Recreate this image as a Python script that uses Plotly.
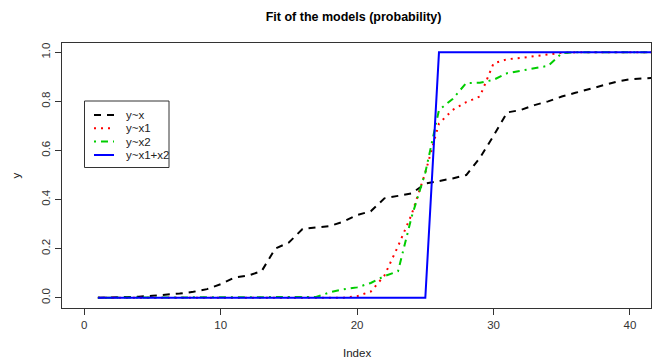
import plotly.graph_objects as go

index = list(range(1, 43))

fit_x = [0.000, 0.001, 0.002, 0.004, 0.008, 0.012, 0.017, 0.024, 0.035, 0.055,
         0.082, 0.090, 0.108, 0.200, 0.225, 0.280, 0.286, 0.292, 0.310, 0.337,
         0.352, 0.405, 0.415, 0.425, 0.465, 0.475, 0.486, 0.500, 0.570, 0.660,
         0.755, 0.765, 0.785, 0.800, 0.820, 0.835, 0.850, 0.865, 0.880, 0.890,
         0.893, 0.897]

fit_x1 = [0.0] * 18 + [0.0, 0.006, 0.025, 0.090, 0.210, 0.340, 0.510, 0.710,
          0.765, 0.797, 0.820, 0.955, 0.972, 0.977, 0.984, 0.990, 0.998] + [1.0] * 7

fit_x2 = [0.0] * 12 + [0.003] * 5 + [0.022, 0.034, 0.042, 0.060, 0.088, 0.108,
          0.330, 0.510, 0.765, 0.810, 0.875, 0.876, 0.888, 0.915, 0.925, 0.935,
          0.945, 0.996] + [1.0] * 7

fit_x1x2 = [0.0] * 25 + [1.0] * 17

series_names = ["y~x", "y~x1", "y~x2", "y~x1+x2"]
series_vals = [fit_x, fit_x1, fit_x2, fit_x1x2]
series_colors = ["#000000", "#FF0000", "#00CD00", "#0000FF"]
series_dash = ["7px,6px", "2px,5px", "2px,5px,7px,5px", "solid"]

x_ticks = [0, 10, 20, 30, 40]
y_ticks = [0.0, 0.2, 0.4, 0.6, 0.8, 1.0]

fig = go.Figure()
for name, vals, col, dash in zip(series_names, series_vals, series_colors, series_dash):
    fig.add_trace(go.Scatter(x=index, y=vals, mode="lines", name=name,
                             showlegend=False,
                             line=dict(color=col, width=2, dash=dash)))

font = "Liberation Sans, Arial, sans-serif"
axis_col = "#333333"

# plot area geometry (pixels) used to place the R-style legend box
L, T, W, H = 62, 43, 589, 265


def px(xp):
    return (xp - L) / W


def py(yp):
    return (T + H - yp) / H


shapes = [dict(type="rect", xref="paper", yref="paper",
               x0=px(84.5), x1=px(169), y0=py(101), y1=py(167.5),
               line=dict(color=axis_col, width=1), fillcolor="white", layer="above")]
annotations = []
row_y = [115, 128.3, 141.6, 155]
for name, col, dash, ry in zip(series_names, series_colors, series_dash, row_y):
    shapes.append(dict(type="line", xref="paper", yref="paper",
                       x0=px(94), x1=px(114), y0=py(ry), y1=py(ry),
                       line=dict(color=col, width=2, dash=dash), layer="above"))
    annotations.append(dict(text=name, xref="paper", yref="paper", x=px(123.5), y=py(ry),
                            xanchor="left", yanchor="middle", showarrow=False,
                            font=dict(size=11.5, color="#222222")))

annotations += [
    dict(text="Index", xref="paper", yref="paper", x=0.5, y=-45 / 265,
         xanchor="center", yanchor="middle", showarrow=False,
         font=dict(size=11.5, color="#222222")),
    dict(text="y", xref="paper", yref="paper", x=-47 / 589, y=0.5,
         xanchor="center", yanchor="middle", showarrow=False, textangle=-90,
         font=dict(size=11.5, color="#222222")),
]

fig.update_layout(
    width=653, height=362,
    margin=dict(l=L, r=653 - L - W, t=T, b=362 - T - H),
    paper_bgcolor="white", plot_bgcolor="white",
    font=dict(family=font, size=11.5, color="#222222"),
    title=dict(text="<b>Fit of the models (probability)</b>", x=0.5415, xanchor="center",
               y=1 - 17 / 362, yanchor="middle", font=dict(size=12.5, color="#000000")),
    xaxis=dict(range=[-1.63, 41.54], tickvals=x_ticks, ticks="outside", ticklen=6,
               tickcolor=axis_col, showgrid=False, zeroline=False, showline=True,
               linecolor=axis_col, linewidth=1, mirror=True,
               tickfont=dict(size=11.5, color="#333333")),
    yaxis=dict(range=[-0.042, 1.038], tickvals=y_ticks, tickformat=".1f",
               ticks="outside", ticklen=6, tickcolor=axis_col, tickangle=-90,
               showgrid=False, zeroline=False, showline=True, linecolor=axis_col,
               linewidth=1, mirror=True, tickfont=dict(size=11.5, color="#333333")),
    showlegend=False,
    shapes=shapes,
    annotations=annotations,
)

fig.write_html("out.html")
